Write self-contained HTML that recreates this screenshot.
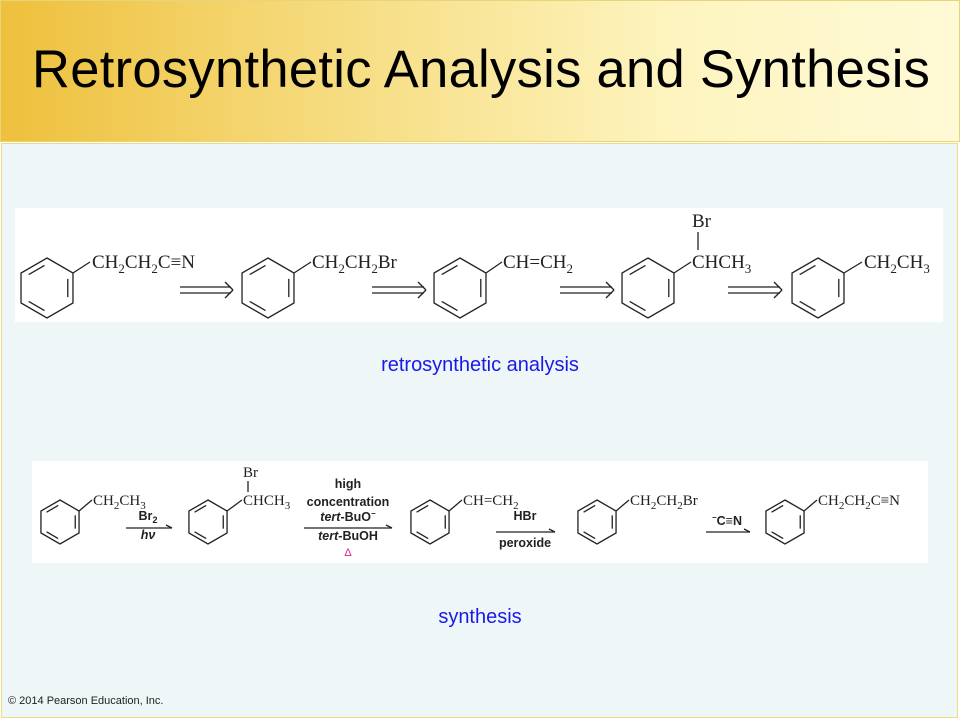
<!DOCTYPE html>
<html><head><meta charset="utf-8"><style>
body{margin:0;width:960px;height:720px;overflow:hidden;background:#fff;font-family:"Liberation Sans",sans-serif}
#hdr{position:absolute;left:0;top:0;width:958px;height:140px;background:linear-gradient(90deg,#eec03c 0%,#f6dc80 35%,#fdf4bf 70%,#fffad6 100%);border:1px solid #e8d47a}
#hdr h1{margin:0;position:absolute;left:31px;top:38px;font-weight:normal;font-size:52.5px;color:#000;letter-spacing:0.3px;white-space:nowrap}
#body{position:absolute;left:1px;top:143px;width:955px;height:573px;background:#eef6f8;border:1px solid #f0dc80}
svg{position:absolute;left:0;top:0}
.t{font-family:"Liberation Serif",serif;font-size:19px}
.s{font-family:"Liberation Serif",serif;font-size:15px}
.a{font-family:"Liberation Sans",sans-serif;font-size:12.5px;font-weight:bold}
</style></head><body>
<div id="hdr"><h1>Retrosynthetic Analysis and Synthesis</h1></div>
<div id="body"></div>
<svg width="960" height="720" id="sv">
<rect x="15" y="208" width="928" height="114" fill="#fff"/>
<rect x="32" y="461" width="896" height="102" fill="#fff"/>
<g id="mol" stroke="#222" stroke-width="1.3" fill="none"></g>
<g fill="#222">
<text class="t" x="92" y="268">CH<tspan font-size="13" dy="5">2</tspan><tspan dy="-5">CH</tspan><tspan font-size="13" dy="5">2</tspan><tspan dy="-5">C≡N</tspan></text>
<text class="t" x="312" y="268">CH<tspan font-size="13" dy="5">2</tspan><tspan dy="-5">CH</tspan><tspan font-size="13" dy="5">2</tspan><tspan dy="-5">Br</tspan></text>
<text class="t" x="503" y="268">CH=CH<tspan font-size="13" dy="5">2</tspan></text>
<text class="t" x="692" y="227">Br</text>
<text class="t" x="692" y="268">CHCH<tspan font-size="13" dy="5">3</tspan></text>
<text class="t" x="864" y="268">CH<tspan font-size="13" dy="5">2</tspan><tspan dy="-5">CH</tspan><tspan font-size="13" dy="5">3</tspan></text>

<text class="s" x="93" y="505">CH<tspan font-size="11" dy="4">2</tspan><tspan dy="-4">CH</tspan><tspan font-size="11" dy="4">3</tspan></text>
<text class="s" x="243" y="477">Br</text>
<text class="s" x="243" y="505">CHCH<tspan font-size="11" dy="4">3</tspan></text>
<text class="s" x="463" y="505">CH=CH<tspan font-size="11" dy="4">2</tspan></text>
<text class="s" x="630" y="505">CH<tspan font-size="11" dy="4">2</tspan><tspan dy="-4">CH</tspan><tspan font-size="11" dy="4">2</tspan><tspan dy="-4">Br</tspan></text>
<text class="s" x="818" y="505">CH<tspan font-size="11" dy="4">2</tspan><tspan dy="-4">CH</tspan><tspan font-size="11" dy="4">2</tspan><tspan dy="-4">C≡N</tspan></text>

<text class="a" x="148" y="520" text-anchor="middle">Br<tspan font-size="9" dy="3">2</tspan></text>
<text class="a" x="148" y="539" text-anchor="middle" font-style="italic">hν</text>
<text class="a" x="348" y="488" text-anchor="middle">high</text>
<text class="a" x="348" y="506" text-anchor="middle">concentration</text>
<text class="a" x="348" y="521" text-anchor="middle"><tspan font-style="italic">tert</tspan>-BuO<tspan font-size="8" dy="-5">−</tspan></text>
<text class="a" x="348" y="540" text-anchor="middle"><tspan font-style="italic">tert</tspan>-BuOH</text>
<text x="348" y="556" text-anchor="middle" font-size="11" fill="#e0208a">Δ</text>
<text class="a" x="525" y="520" text-anchor="middle">HBr</text>
<text class="a" x="525" y="547" text-anchor="middle">peroxide</text>
<text class="a" x="727" y="525" text-anchor="middle"><tspan font-size="8" dy="-5">−</tspan><tspan dy="5">C≡N</tspan></text>
</g>
<text x="480" y="371" text-anchor="middle" font-size="20" fill="#1a1ae6">retrosynthetic analysis</text>
<text x="480" y="623" text-anchor="middle" font-size="20" fill="#1a1ae6">synthesis</text>
<text x="8" y="704" font-size="11" fill="#222">© 2014 Pearson Education, Inc.</text>
</svg>
<script>
var g=document.getElementById('mol'),h='';
function L(a,b,c,d){h+='<line x1="'+a+'" y1="'+b+'" x2="'+c+'" y2="'+d+'"/>';}
function benz(cx,cy,r,sx,sy){
 var p=[];for(var i=0;i<6;i++){var an=Math.PI/180*(-90+60*i);p.push([cx+r*Math.cos(an),cy+r*Math.sin(an)]);}
 h+='<polygon points="'+p.map(function(q){return q.join(',')}).join(' ')+'"/>';
 var k=0.8;function inner(i,j){var a=p[i],b=p[j];var ma=[cx+(a[0]-cx)*k,cy+(a[1]-cy)*k],mb=[cx+(b[0]-cx)*k,cy+(b[1]-cy)*k];var t=0.12;L(ma[0]+(mb[0]-ma[0])*t,ma[1]+(mb[1]-ma[1])*t,mb[0]+(ma[0]-mb[0])*t,mb[1]+(ma[1]-mb[1])*t);}
 inner(1,2);inner(3,4);inner(5,0);
 L(p[1][0],p[1][1],sx,sy);
}
function arr2(x1,x2,y){L(x1,y-3,x2-2,y-3);L(x1,y+3,x2-2,y+3);L(x2-8,y-8,x2,y);L(x2-8,y+8,x2,y);}
function arr(x1,x2,y){L(x1,y,x2,y);L(x2-6,y-3,x2,y);}
benz(47,288,30,90,262);benz(268,288,30,311,262);benz(460,288,30,502,262);benz(648,288,30,691,262);benz(818,288,30,862,262);
L(698,232,698,250);
arr2(180,233,290);arr2(372,426,290);arr2(560,614,290);arr2(728,782,290);
benz(60,522,22,92,500);benz(208,522,22,242,500);benz(430,522,22,462,500);benz(597,522,22,629,500);benz(785,522,22,817,500);
L(248,481,248,492);
arr(126,172,528);arr(304,392,528);arr(496,555,532);arr(706,750,532);
g.innerHTML=h;
</script>
</body></html>
